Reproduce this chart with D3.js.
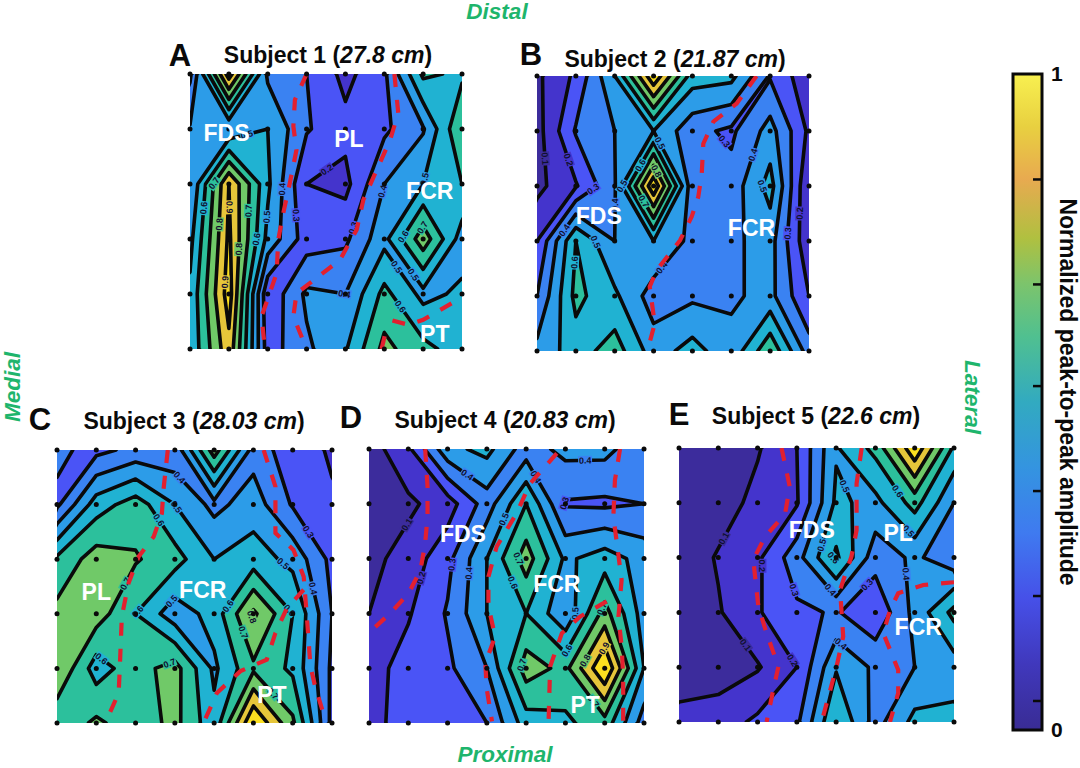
<!DOCTYPE html>
<html>
<head>
<meta charset="utf-8">
<script src="https://cdn.jsdelivr.net/npm/d3@7"></script>
<style>
  html, body { margin: 0; padding: 0; background: #fff; }
  text { font-family: "Liberation Sans", Arial, sans-serif; font-weight: bold; }
</style>
</head>
<body>
<div id="graph"></div>
<script>
// normalized peak-to-peak amplitude, 8 columns x 6 rows of electrodes
const subject1 = [
  .28, .95, .38, .30, .17, .28, .62, .58,
  .41, .41, .50, .31, .23, .28, .39, .70,
  .40, .90, .52, .20, .17, .40, .50, .60,
  .47, .92, .47, .25, .28, .47, .76, .45,
  .52, .95, .22, .42, .40, .63, .47, .52,
  .52, .87, .25, .38, .49, .73, .63, .55
];
const subject2 = [
  .08, .22, .50, .98, .55, .53, .29, .13,
  .06, .31, .40, .50, .33, .28, .44, .18,
  .07, .19, .39, .98, .33, .34, .54, .10,
  .20, .60, .40, .50, .37, .38, .44, .12,
  .30, .63, .52, .35, .38, .385, .43, .20,
  .43, .55, .65, .45, .54, .43, .68, .35
];
const subject3 = [
  .32, .27, .33, .33, .75, .36, .24, .19,
  .28, .55, .65, .50, .37, .45, .29, .21,
  .62, .75, .71, .64, .50, .55, .47, .27,
  .73, .75, .60, .44, .54, .82, .60, .30,
  .80, .55, .66, .74, .48, .68, .58, .28,
  .62, .72, .64, .73, .53, 1.0, .72, .27
];
const subject4 = [
  .05, .18, .47, .53, .35, .43, .43, .33,
  .06, .08, .15, .35, .60, .29, .28, .30,
  .07, .14, .27, .50, .75, .48, .55, .46,
  .10, .19, .31, .50, .60, .42, .74, .45,
  .16, .24, .28, .40, .75, .67, 1.0, .50,
  .17, .24, .27, .30, .55, .58, .66, .35
];
const subject5 = [
  .03, .05, .09, .20, .49, .63, .98, .58,
  .03, .05, .13, .19, .52, .47, .64, .40,
  .03, .11, .18, .36, .62, .34, .42, .33,
  .03, .09, .19, .28, .31, .22, .43, .63,
  .03, .05, .09, .20, .49, .38, .40, .45,
  .14, .15, .22, .28, .60, .36, .53, .53
];

// muscle borders, in electrode units (column, row)
const borders1 = [
  [[3,0],[2.7,.47],[2.66,.95],[2.74,1.38],[2.57,1.98],[2.4,2.53],[2.27,3.02],[2.23,3.62],[2.02,4.05],[1.84,4.41],[1.93,5]],
  [[5.26,0],[5.36,.71],[5.15,1.2],[4.46,2.29],[4.29,2.83],[3.86,3.38],[2.74,3.99],[2.66,4.41],[3,5]],
  [[4.93,5],[5.04,4.68]],
  [[5.21,4.48],[5.62,4.56],[6,4.47],[6.73,4.17]]
];
const borders2 = [
  [[5.65,0],[5.14,.5],[4.54,.83],[4.28,1.23],[4.24,1.77],[4.15,2.2],[3.98,2.56],[3.68,2.99],[3.08,3.53],[2.9,3.83],[3.03,4.5],[2.84,5]]
];
const borders3 = [
  [[2.82,0],[2.71,.73],[2.67,1.16],[2.46,1.59],[2.08,1.95],[1.82,2.44],[1.65,3.05],[1.61,3.78],[1.57,4.45],[1.23,5]],
  [[5.26,0],[5.56,.67],[5.56,1.52],[6.02,1.83],[6.28,2.32],[6.36,3.05],[6.45,3.95],[6.57,4.33],[6.83,4.94]],
  [[6.28,2.56],[5.85,2.9],[5.56,3.35],[5.34,3.84],[4.67,4.05],[4.07,4.45],[3.73,5]]
];
const borders4 = [
  [[1.43,0],[1.49,.69],[1.49,1.23],[1.43,1.72],[1.31,2.21],[1.01,2.63],[.54,3],[.03,3.33]],
  [[4.78,.08],[4.1,.63],[3.76,1.17],[3.25,1.78],[3.04,2.33],[3.04,2.87],[3.21,3.42],[2.96,3.91],[3,4.39],[3.13,4.97]],
  [[6.39,0],[6.26,.57],[6.22,1.23],[6.31,1.72],[6.43,2.39],[6.35,3.06],[6.43,3.6],[6.47,4.15],[6.47,5]],
  [[6.05,2.78],[5.37,3.06],[4.91,3.36],[4.61,3.97],[4.57,5]]
];
const borders5 = [
  [[2.61,0],[2.82,.71],[2.7,1.2],[2.19,1.62],[1.89,2.04],[2.02,2.89],[2.23,3.38],[2.53,3.99],[2.4,4.41],[2.23,5]],
  [[4.65,0],[4.52,.65],[4.52,1.5],[4.39,1.98],[4.1,2.59],[4.18,3.44],[4.01,3.99],[3.63,5]],
  [[7,2.45],[6.22,2.5],[5.58,2.65],[5.37,2.96],[5.2,3.38],[5.58,4.05],[5.58,4.47],[5.37,5]]
];

const muscles1 = [["FDS",.94,1.07],["PL",4.09,1.18],["FCR",6.17,2.12],["PT",6.3,4.72]];
const muscles2 = [["FDS",1.59,2.54],["FCR",5.52,2.75]];
const muscles3 = [["PL",1,2.6],["FCR",3.71,2.56],["PT",5.47,4.48]];
const muscles4 = [["FDS",2.39,1.54],["FCR",4.78,2.46],["PT",5.5,4.67]];
const muscles5 = [["FDS",3.38,1.5],["PL",5.58,1.54],["FCR",6.09,3.26]];

const levels = [.1, .2, .3, .4, .5, .6, .7, .8, .9];
const bandColors = ["#3c2c9c", "#4434cc", "#4a54f6", "#3a82f2", "#2c9ce8", "#20b2d2", "#2cc09c", "#70c968", "#e6c63a", "#fbdf20"];
const barStops = [0, .1, .2, .3, .4, .5, .6, .68, .75, .84, .92, 1];
const barColors = ["#392c94", "#4038bc", "#4650e8", "#3f7af0", "#3494e0", "#32aac0", "#50c090", "#7cc46c", "#b0c040", "#e8aa50", "#e8d040", "#f8f050"];
const barTicks = [.045, .205, .365, .525, .68, .84];

const panels = [
  {letter:"A", n:"1", size:"27.8 cm",  values:subject1, borders:borders1, muscles:muscles1, x:[190,462], y:[74,349],  tx:328, ty:63,  lx:180, ly:66},
  {letter:"B", n:"2", size:"21.87 cm", values:subject2, borders:borders2, muscles:muscles2, x:[537,809], y:[76,351],  tx:675, ty:67,  lx:531, ly:65},
  {letter:"C", n:"3", size:"28.03 cm", values:subject3, borders:borders3, muscles:muscles3, x:[57,332],  y:[450,723], tx:194, ty:429, lx:40,  ly:430},
  {letter:"D", n:"4", size:"20.83 cm", values:subject4, borders:borders4, muscles:muscles4, x:[369,644], y:[449,723], tx:505, ty:428, lx:351, ly:428},
  {letter:"E", n:"5", size:"22.6 cm",  values:subject5, borders:borders5, muscles:muscles5, x:[679,954], y:[448,722], tx:816, ty:424, lx:679, ly:425}
];

const svg = d3.select("#graph").append("svg")
  .attr("width", 1080).attr("height", 768)
  .style("display", "block");

function placeLabels(g, contour, level, xScale, yScale, placed) {
  const [x0, x1] = xScale.range(), [y0, y1] = yScale.range();
  contour.coordinates.forEach(poly => poly.forEach(ring => {
    // rings run past the plot edge, keep only the inside stretches
    let runs = [], run = [];
    ring.forEach(p => {
      const px = xScale(p[0] - .5), py = yScale(p[1] - .5);
      if (px > x0 + 4 && px < x1 - 4 && py > y0 + 4 && py < y1 - 4) run.push([px, py]);
      else { if (run.length > 1) runs.push(run); run = []; }
    });
    if (run.length > 1) runs.push(run);

    runs.forEach(r => {
      let segs = [], total = 0;
      for (let i = 1; i < r.length; i++) {
        const len = Math.hypot(r[i][0] - r[i-1][0], r[i][1] - r[i-1][1]);
        segs.push({a:r[i-1], b:r[i], len:len, at:total});
        total += len;
      }
      if (total < 24) return;
      const starts = total > 230 ? [.3, .72] : [.5];
      starts.forEach(f => {
        // slide along the line if the spot is taken
        for (const shift of [0, -.12, .12, -.22, .22, -.32, .32]) {
          const target = total * (f + shift);
          const s = segs.find(d => d.at + d.len >= target) || segs[segs.length - 1];
          const t = (target - s.at) / s.len;
          const px = s.a[0] + (s.b[0] - s.a[0]) * t, py = s.a[1] + (s.b[1] - s.a[1]) * t;
          if (placed.some(q => Math.hypot(q[0] - px, q[1] - py) < 17)) continue;
          placed.push([px, py]);
          let angle = Math.atan2(s.b[1] - s.a[1], s.b[0] - s.a[0]) * 180 / Math.PI;
          if (angle > 90) angle -= 180;
          if (angle < -90) angle += 180;
          const lab = g.append("g").attr("transform", `translate(${px},${py}) rotate(${angle})`);
          lab.append("rect").attr("x", -7).attr("y", -4.5).attr("width", 14).attr("height", 9)
            .attr("fill", bandColors[levels.indexOf(level)]);
          lab.append("text").attr("text-anchor", "middle").attr("dy", "0.35em")
            .attr("font-size", 9).attr("fill", "#101030").text(level.toFixed(1));
          break;
        }
      });
    });
  }));
}

panels.forEach((p, idx) => {
  const xScale = d3.scaleLinear().domain([0, 7]).range(p.x);
  const yScale = d3.scaleLinear().domain([0, 5]).range(p.y);
  const g = svg.append("g").attr("class", "panel");

  const clipId = "clip" + idx;
  svg.append("clipPath").attr("id", clipId).append("rect")
    .attr("x", p.x[0]).attr("y", p.y[0])
    .attr("width", p.x[1] - p.x[0]).attr("height", p.y[1] - p.y[0]);

  const inner = g.append("g").attr("clip-path", `url(#${clipId})`);
  inner.append("rect")
    .attr("x", p.x[0]).attr("y", p.y[0])
    .attr("width", p.x[1] - p.x[0]).attr("height", p.y[1] - p.y[0])
    .attr("fill", bandColors[0]);

  const contours = d3.contours().size([8, 6]).thresholds(levels)(p.values);
  // d3 puts grid nodes at i + 0.5
  const path = d3.geoPath(d3.geoTransform({
    point(x, y) { this.stream.point(xScale(x - .5), yScale(y - .5)); }
  }));

  inner.selectAll("path.fill").data(contours).join("path")
    .attr("class", "fill")
    .attr("d", path)
    .attr("fill", d => bandColors[levels.indexOf(d.value) + 1]);
  inner.selectAll("path.line").data(contours).join("path")
    .attr("class", "line")
    .attr("d", path)
    .attr("fill", "none")
    .attr("stroke", "#0a0a0a")
    .attr("stroke-width", 3.6)
    .attr("stroke-linejoin", "round");

  const placed = [];
  contours.forEach(c => placeLabels(inner, c, c.value, xScale, yScale, placed));

  const line = d3.line().x(d => xScale(d[0])).y(d => yScale(d[1]));
  inner.selectAll("path.border").data(p.borders).join("path")
    .attr("class", "border")
    .attr("d", line)
    .attr("fill", "none")
    .attr("stroke", "#e3202f")
    .attr("stroke-width", 4.2)
    .attr("stroke-dasharray", "13,13");

  // electrode dots
  g.selectAll("circle").data(d3.cross(d3.range(6), d3.range(8))).join("circle")
    .attr("cx", d => xScale(d[1]))
    .attr("cy", d => yScale(d[0]))
    .attr("r", 2.5)
    .attr("fill", "#0a0a0a");

  g.selectAll("text.muscle").data(p.muscles).join("text")
    .attr("class", "muscle")
    .attr("x", d => xScale(d[1]))
    .attr("y", d => yScale(d[2]))
    .attr("dy", "0.36em")
    .attr("text-anchor", "middle")
    .attr("font-size", 23)
    .attr("fill", "#fff")
    .text(d => d[0]);

  const title = g.append("text")
    .attr("x", p.tx).attr("y", p.ty)
    .attr("text-anchor", "middle")
    .attr("font-size", 23)
    .attr("fill", "#0a0a0a");
  title.append("tspan").text(`Subject ${p.n} (`);
  title.append("tspan").attr("font-style", "italic").text(p.size);
  title.append("tspan").text(")");

  g.append("text")
    .attr("x", p.lx).attr("y", p.ly)
    .attr("text-anchor", "middle")
    .attr("font-size", 31)
    .attr("fill", "#0a0a0a")
    .text(p.letter);
});

// direction labels
const green = "#1eb56c";
const dirLabel = (txt, x, y, rot) => svg.append("text")
  .attr("transform", `translate(${x},${y}) rotate(${rot})`)
  .attr("text-anchor", "middle")
  .attr("font-size", 22.5)
  .attr("font-style", "italic")
  .attr("fill", green)
  .text(txt);
dirLabel("Distal", 497, 19, 0);
dirLabel("Proximal", 505, 762, 0);
dirLabel("Medial", 20, 387, -90);
dirLabel("Lateral", 965, 397, 90);

// colour bar
const barY = d3.scaleLinear().domain([0, 1]).range([730, 74]);
const grad = svg.append("defs").append("linearGradient")
  .attr("id", "parula").attr("x1", 0).attr("y1", 1).attr("x2", 0).attr("y2", 0);
grad.selectAll("stop").data(barStops).join("stop")
  .attr("offset", d => d)
  .attr("stop-color", (d, i) => barColors[i]);
svg.append("rect")
  .attr("x", 1013).attr("y", 74).attr("width", 29).attr("height", 656)
  .attr("fill", "url(#parula)")
  .attr("stroke", "#0a0a0a").attr("stroke-width", 3);
const barAxis = svg.append("g")
  .attr("transform", "translate(1041,0)")
  .call(d3.axisLeft(barY).tickValues(barTicks).tickSize(8).tickFormat(""));
barAxis.select(".domain").remove();
barAxis.selectAll("line").attr("stroke", "#0a0a0a").attr("stroke-width", 2.5);

svg.append("text").attr("x", 1051).attr("y", 81).attr("font-size", 21).attr("fill", "#0a0a0a").text("1");
svg.append("text").attr("x", 1051).attr("y", 737).attr("font-size", 21).attr("fill", "#0a0a0a").text("0");
svg.append("text")
  .attr("transform", "translate(1060,392) rotate(90)")
  .attr("text-anchor", "middle")
  .attr("font-size", 23)
  .attr("fill", "#0a0a0a")
  .text("Normalized peak-to-peak amplitude");
</script>
</body>
</html>
